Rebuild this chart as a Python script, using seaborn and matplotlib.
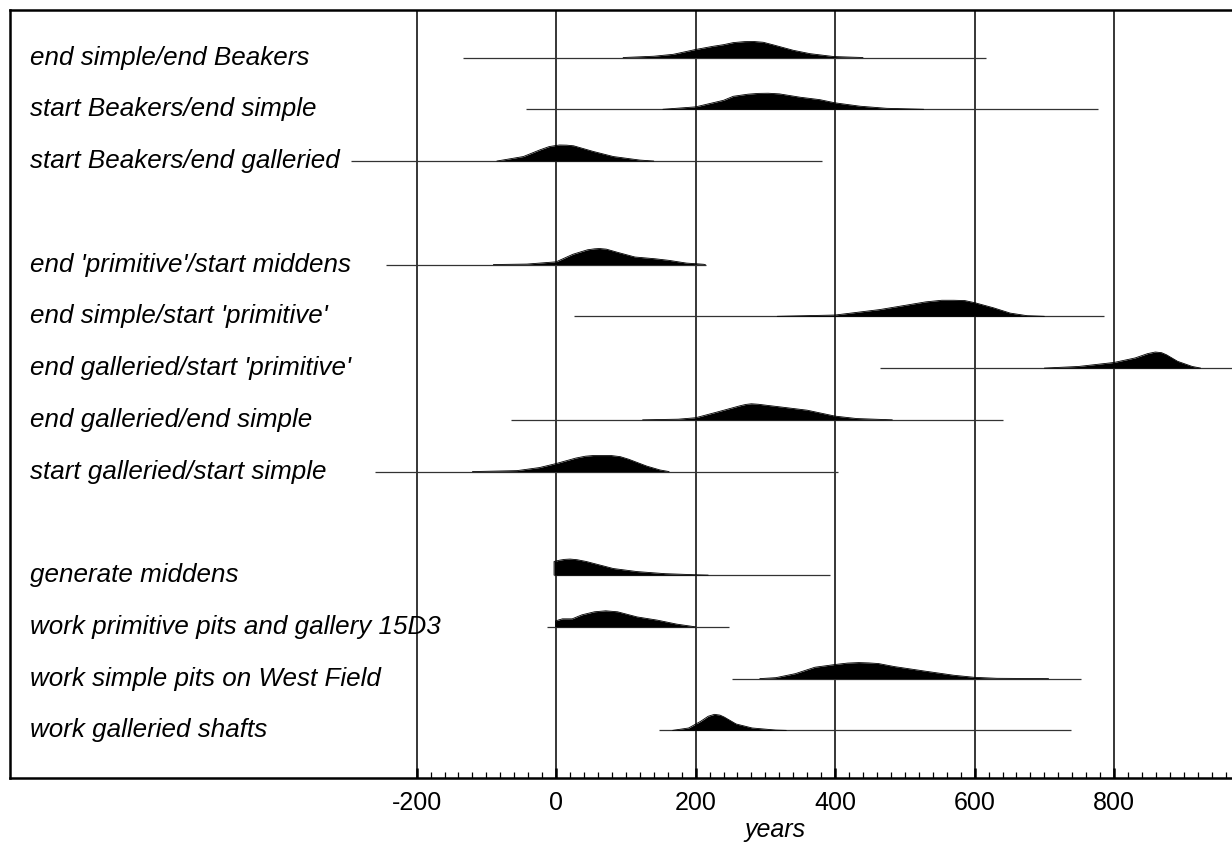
import numpy as np
import pandas as pd
import matplotlib
matplotlib.use("Agg")
import matplotlib.pyplot as plt
import matplotlib.transforms as mtrans
import seaborn as sns

# row labels (top to bottom) and their slot in the stack (gaps between groups)
labels = [
    "end simple/end Beakers",
    "start Beakers/end simple",
    "start Beakers/end galleried",
    "end 'primitive'/start middens",
    "end simple/start 'primitive'",
    "end galleried/start 'primitive'",
    "end galleried/end simple",
    "start galleried/start simple",
    "generate middens",
    "work primitive pits and gallery 15D3",
    "work simple pits on West Field",
    "work galleried shafts",
]
slots = [0, 1, 2, 4, 5, 6, 7, 8, 10, 11, 12, 13]

# thin range lines (years)
range_lo = [-133, -43, -294, -244, 25, 465, -65, -260, -3, -13, 252, 147]
range_hi = [616, 777, 381, 215, 785, 990, 640, 404, 392, 248, 752, 738]

# distribution outlines: years and relative height
dens_x = [
    [96, 140, 168, 200, 225, 240, 254, 270, 283, 297, 312, 340, 364, 398, 440],
    [153, 200, 240, 254, 275, 290, 304, 320, 350, 378, 400, 436, 474, 527],
    [-85, -47, -23, -10, 0, 5, 15, 25, 53, 82, 120, 140],
    [-90, -42, 0, 24, 45, 55, 62, 72, 89, 113, 142, 162, 187, 211, 214],
    [317, 400, 464, 504, 530, 553, 570, 586, 600, 627, 651, 675, 700],
    [700, 749, 800, 830, 848, 859, 868, 875, 891, 912, 924],
    [124, 175, 200, 232, 264, 272, 280, 290, 303, 328, 360, 400, 431, 469, 482],
    [-120, -56, -24, 0, 28, 42, 53, 79, 92, 104, 130, 149, 162],
    [-3, -3, 5, 12, 20, 30, 43, 82, 116, 156, 201, 218],
    [-1, -1, 9, 23, 37, 55, 71, 88, 116, 145, 173, 200],
    [292, 315, 343, 371, 400, 418, 434, 448, 462, 485, 530, 570, 600, 632, 706],
    [167, 190, 207, 218, 227, 235, 241, 258, 281, 315, 330],
]
dens_y = [
    [0, .08, .2, .5, .7, .8, .93, .99, 1, .95, .78, .45, .24, .06, 0],
    [0, .15, .56, .81, .94, .99, 1, .96, .75, .6, .4, .19, .06, 0],
    [0, .28, .7, .9, .97, 1, .99, .95, .6, .28, .06, 0],
    [0, .03, .17, .64, .92, .98, 1, .96, .75, .47, .36, .26, .09, .02, 0],
    [0, .08, .42, .71, .9, 1, 1, .98, .85, .53, .2, .04, 0],
    [0, .1, .35, .63, .9, 1, .96, .83, .42, .1, 0],
    [0, .04, .13, .5, .88, .96, 1, .97, .9, .77, .6, .23, .08, .02, 0],
    [0, .06, .25, .5, .84, .96, 1, 1, .93, .77, .34, .1, 0],
    [0, .85, .93, .98, 1, .96, .85, .41, .22, .09, .02, 0],
    [0, .37, .5, .5, .75, .94, 1, .94, .62, .42, .17, 0],
    [0, .06, .31, .71, .88, .97, 1, .98, .94, .75, .46, .21, .08, .02, 0],
    [0, .15, .56, .88, 1, .95, .83, .4, .15, .02, 0],
]

major_ticks = [-200, 0, 200, 400, 600, 800]

sns.set_theme(style="white")
plt.rcParams["font.family"] = ["Liberation Sans", "DejaVu Sans"]
plt.rcParams["axes.unicode_minus"] = False

fig = plt.figure(figsize=(12.32, 8.43), dpi=100)
ax = fig.add_axes([10 / 1232, 65 / 843, 1 - 10 / 1232, 768 / 843])

peak = 0.31  # height of a peak in row units

# long table of outlines for seaborn
rows = []
for i in range(len(labels)):
    for x, y in zip(dens_x[i], dens_y[i]):
        rows.append({"row": i, "year": x, "top": slots[i] - peak * y})
df = pd.DataFrame(rows)

for i in range(len(labels)):
    s = slots[i]
    ax.hlines(s, range_lo[i], range_hi[i], color="#333333", lw=0.9, zorder=2)
    d = df[df["row"] == i]
    ax.fill_between(d["year"], s, d["top"], color="black", lw=0, zorder=3)
    ax.text(20 / 1222, s, labels[i], transform=mtrans.blended_transform_factory(ax.transAxes, ax.transData),
            ha="left", va="center", fontsize=18.7, style="italic", color="black")

sns.lineplot(data=df, x="year", y="top", units="row", estimator=None, sort=False,
             color="black", lw=0.6, ax=ax, zorder=3)

ax.vlines(major_ticks, -1, 15, color="black", lw=1.1, zorder=1)

ax.set_xlim(-783, 969)
ax.set_ylim(13.92, -0.918)

ax.set_xticks(major_ticks)
ax.set_xticks(np.arange(-200, 961, 20), minor=True)
ax.set_yticks([])
ax.tick_params(axis="x", which="major", direction="in", length=7.5, width=1.8,
               labelsize=18, pad=9, colors="black", bottom=True, top=False)
ax.tick_params(axis="x", which="minor", direction="in", length=4.5, width=0.9,
               bottom=True, top=False, colors="black")
ax.set_xlabel("")
ax.set_ylabel("")
ax.text(0.626, -0.068, "years", transform=ax.transAxes, ha="center", va="center",
        fontsize=18, style="italic", color="black")

for side in ["left", "top", "bottom"]:
    ax.spines[side].set_visible(True)
    ax.spines[side].set_color("black")
    ax.spines[side].set_linewidth(1.8)
ax.spines["right"].set_visible(False)

fig.savefig("out.png", dpi=100)
